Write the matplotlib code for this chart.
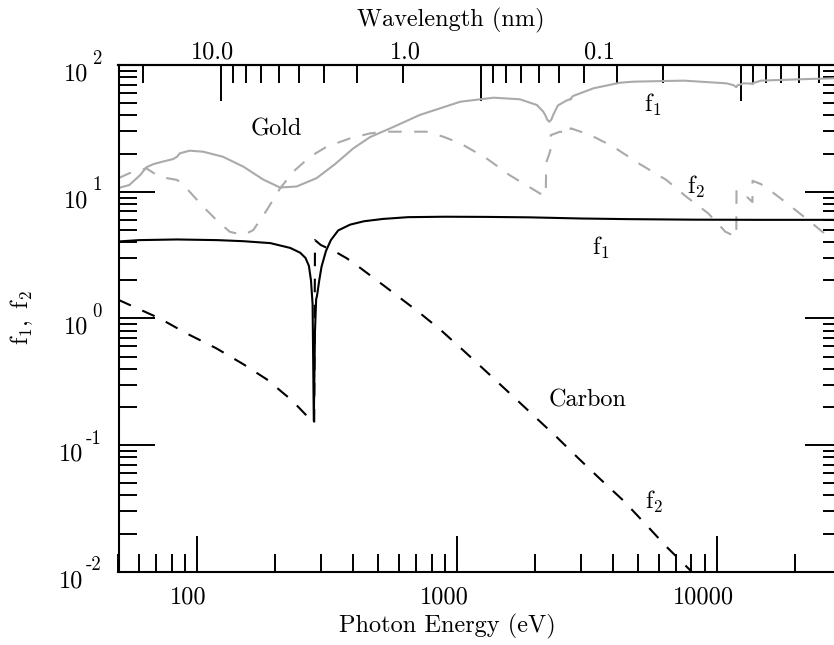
import numpy as np
import matplotlib
matplotlib.use('Agg')
import matplotlib.pyplot as plt
import matplotlib.transforms as mtransforms
from matplotlib.ticker import LogLocator, NullFormatter, FixedLocator

# ---------------- data ----------------
# Carbon f1 (black solid)
E_c1 = [50, 60, 84, 120, 151, 192, 229, 250, 262, 270, 275, 279, 282, 285, 288, 290,
        296, 302, 314, 328, 350, 389, 440, 520, 650, 900, 1300, 1900, 3000, 4500,
        8000, 15000, 30000]
f1_c = [4.05, 4.15, 4.2, 4.15, 4.07, 3.93, 3.6, 3.3, 3.0, 2.6, 2.0, 1.3, 0.155, 0.8,
        1.42, 1.5, 2.0, 2.56, 3.4, 4.15, 4.95, 5.5, 5.85, 6.1, 6.3, 6.35, 6.33, 6.28,
        6.15, 6.08, 6.02, 6.0, 6.0]

# Carbon f2 (black dashed)
E_c2 = [50, 72, 91.5, 119, 151, 186, 232, 283, 285, 300, 341, 378, 426, 537, 703,
        862, 1059, 1300, 1600, 1970, 2420, 2950, 3560, 4360, 5300, 6400, 7900, 9500]
f2_c = [1.40, 1.0, 0.76, 0.58, 0.435, 0.33, 0.226, 0.148, 4.15, 3.8, 3.36, 2.98, 2.5,
        1.75, 1.15, 0.82, 0.56, 0.38, 0.256, 0.172, 0.116, 0.078, 0.054, 0.0367,
        0.024, 0.0158, 0.0103, 0.0070]

# Gold f1 (grey solid)
E_g1 = [50, 55, 60.5, 64, 68, 74, 81, 84, 86, 94, 106, 126, 151, 180, 209, 242, 289,
        340, 400, 464, 571, 721, 1033, 1387, 1750, 2035, 2150, 2190, 2230, 2270, 2310,
        2350, 2450, 2640, 2720, 2745, 2760, 2800, 3360, 4250, 4790, 7470, 10900, 11600,
        11900, 12000, 12700, 13600, 13740, 13800, 14800, 21000, 30000]
f1_g = [10.7, 11.3, 13.5, 15.6, 16.5, 17.3, 18.1, 18.9, 20.1, 21.1, 20.7, 18.9, 15.8,
        12.5, 10.8, 11.0, 12.8, 16.5, 22.0, 27.0, 32.5, 40.4, 51.4, 55.3, 53.7, 48.4,
        43.0, 40.4, 37.0, 35.7, 37.0, 40.4, 48.0, 52.4, 53.7, 53.5, 55.0, 57.0, 65.6,
        72.6, 74.0, 75.4, 71.8, 69.5, 66.9, 69.0, 71.8, 71.5, 70.5, 72.0, 75.4, 77.3,
        79.0]

# Gold f2 (grey dashed)
E_g2 = [50, 55, 64, 72, 84, 91.5, 106, 119, 134, 151, 165, 186, 209, 235, 273, 316,
        389, 464, 537, 765, 888, 1033, 1300, 1600, 2090, 2200, 2210, 2290, 2300, 2500,
        2700, 2740, 2745, 3270, 4000, 5000, 6400, 7660, 9280, 10800, 11900, 11920,
        13000, 13730, 13740, 14800, 16300, 18650, 22900, 25500, 30000]
f2_g = [12.8, 14.0, 15.3, 13.1, 12.4, 10.6, 7.6, 5.98, 4.83, 4.55, 4.98, 7.17, 10.6,
        14.4, 18.9, 22.7, 26.4, 28.9, 29.8, 29.8, 27.2, 24.1, 18.4, 13.5, 9.7, 9.3,
        17.0, 21.0, 28.0, 29.8, 28.9, 28.7, 31.7, 28.0, 22.7, 16.8, 12.4, 9.1, 6.75,
        4.83, 4.41, 10.3, 9.2, 8.3, 12.2, 11.5, 10.0, 8.1, 5.8, 4.83, 4.0]

# axis ticks / labels
xtick_vals = [100, 1000, 10000]
xtick_labels = ['100', '1000', '10000']
ytick_exps = [-2, -1, 0, 1, 2]
ytick_sup = ['-2', '-1', '0', '1', '2']
wl_major = [10.0, 1.0, 0.1]
wl_minor = [20, 9, 8, 7, 6, 5, 4, 3, 2, 0.9, 0.8, 0.7, 0.6, 0.5, 0.4, 0.3, 0.2,
            0.09, 0.08, 0.07, 0.06, 0.05]
wl_labels = ['10.0', '1.0', '0.1']
wl_label_pos = [10.77, 1.96, 0.349]   # wavelength (nm) where the labels sit

curve_labels = [  # (energy, value, text)
    (202, 31.3, 'Gold'),
    (5690, 48.4, r'$\mathrm{f}_1$'),
    (8340, 10.9, r'$\mathrm{f}_2$'),
    (3590, 3.59, r'$\mathrm{f}_1$'),
    (3200, 0.226, 'Carbon'),
    (5740, 0.0354, r'$\mathrm{f}_2$'),
]

HC = 1239.84  # eV nm

# ---------------- style ----------------
plt.rcParams['font.family'] = 'cmr10'
plt.rcParams['mathtext.fontset'] = 'cm'
plt.rcParams['axes.unicode_minus'] = False
plt.rcParams['axes.formatter.use_mathtext'] = True

W, H = 834, 645
fig = plt.figure(figsize=(W / 100, H / 100), dpi=100)
L, R, B, T = 118.5, 840.7, 571.7, 65.1
ax = fig.add_axes([L / W, 1 - B / H, (R - L) / W, (B - T) / H])
ax.set_xscale('log')
ax.set_yscale('log')
ax.set_xlim(50, 30000)
ax.set_ylim(1e-2, 1e2)

gray = '#aaaaaa'
lw = 1.5
ax.plot(E_g1, f1_g, color=gray, lw=lw)
ax.plot(E_g2, f2_g, color=gray, lw=lw, dashes=(6.5, 6))
ax.plot(E_c1, f1_c, color='k', lw=lw)
ax.plot(E_c2, f2_c, color='k', lw=lw, dashes=(6.5, 6))

for sp in ax.spines.values():
    sp.set_linewidth(1.5)

FS = 17.5
ax.tick_params(which='both', direction='in', top=False, right=True, left=True,
               bottom=True, width=1.4, labelleft=False, labelbottom=False)
ax.tick_params(which='major', length=26)
ax.tick_params(which='minor', length=13)
ax.set_xticks(xtick_vals)
ax.xaxis.set_minor_locator(LogLocator(base=10, subs=np.arange(2, 10), numticks=20))
ax.xaxis.set_minor_formatter(NullFormatter())
ax.set_yticks([10.0 ** e for e in ytick_exps])
ax.yaxis.set_minor_locator(LogLocator(base=10, subs=np.arange(2, 10), numticks=20))
ax.yaxis.set_minor_formatter(NullFormatter())

# bottom tick labels
bx = mtransforms.blended_transform_factory(ax.transData, fig.transFigure)
xlab_shift = [-9, -12, -13]  # px
for v, lab, dx in zip(xtick_vals, xtick_labels, xlab_shift):
    ax.text(v, 1 - 603 / H, lab,
            transform=bx + mtransforms.ScaledTranslation(dx / 100, 0, fig.dpi_scale_trans),
            ha='center', va='baseline', fontsize=FS)

# left tick labels 10^n
by = mtransforms.blended_transform_factory(fig.transFigure, ax.transData)
for e, sup in zip(ytick_exps, ytick_sup):
    v = 10.0 ** e
    x10 = 88.5 if e >= 0 else 83.5
    ax.text(x10 / W, v, '10',
            transform=by + mtransforms.ScaledTranslation(0, -15.5 / 100, fig.dpi_scale_trans),
            ha='right', va='baseline', fontsize=FS)
    ax.text(101.7 / W, v, sup,
            transform=by + mtransforms.ScaledTranslation(0, 1.5 / 100, fig.dpi_scale_trans),
            ha='right', va='baseline', fontsize=13.5)

# top wavelength axis
def e2l(e):
    e = np.asarray(e, dtype=float)
    with np.errstate(divide='ignore', invalid='ignore'):
        return HC / e

secax = ax.secondary_xaxis('top', functions=(e2l, e2l))
secax.xaxis.set_major_locator(FixedLocator(wl_major))
secax.xaxis.set_minor_locator(FixedLocator(wl_minor))
secax.xaxis.set_major_formatter(NullFormatter())
secax.xaxis.set_minor_formatter(NullFormatter())
secax.tick_params(which='both', direction='in', width=1.4)
secax.tick_params(which='major', length=26)
secax.tick_params(which='minor', length=13)
secax.spines['top'].set_linewidth(1.5)

for lam, lab in zip(wl_label_pos, wl_labels):
    ax.text(HC / lam, 1 - 58.3 / H, lab, transform=bx, ha='center', va='baseline', fontsize=FS)

# curve annotations
for e, v, t in curve_labels:
    ax.text(e, v, t, ha='center', va='center', fontsize=FS)

# axis titles
fig.text(447 / W, 1 - 626 / H, 'Photon Energy (eV)', ha='center', va='center', fontsize=FS)
fig.text(451 / W, 1 - 20 / H, 'Wavelength (nm)', ha='center', va='center', fontsize=FS)
fig.text(22 / W, 1 - 318 / H, r'$\mathrm{f}_1,\ \mathrm{f}_2$', rotation=90,
         ha='center', va='center', fontsize=FS)

fig.savefig('out.png', dpi=100)
